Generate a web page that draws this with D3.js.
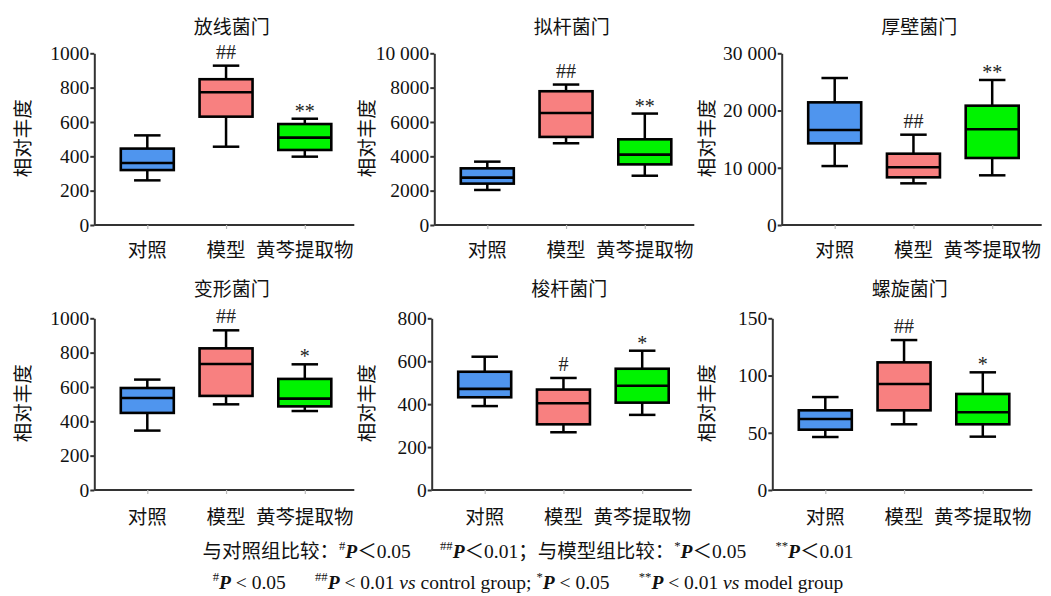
<!DOCTYPE html>
<html>
<head>
<meta charset="utf-8">
<script src="https://cdn.jsdelivr.net/npm/d3@7"></script>
<style>
  body { margin: 0; background: #fff; }
  svg { display: block; }
</style>
</head>
<body>
<svg id="chart" width="1051" height="596"></svg>
<script>
// Groups and their fill colours
const groups = ["对照", "模型", "黄芩提取物"];
const groupColors = ["#4f95ee", "#f88080", "#00f300"];

// Panel titles (phyla)
const phyla = ["放线菌门", "拟杆菌门", "厚壁菌门", "变形菌门", "梭杆菌门", "螺旋菌门"];

// Box statistics per group: [lower whisker, Q1, median, Q3, upper whisker]
const actinobacteria = [[260, 320, 361, 445, 522], [456, 631, 773, 849, 928], [398, 437, 509, 588, 619]];
const bacteroidetes  = [[2040, 2410, 2760, 3300, 3690], [4760, 5130, 6520, 7790, 8180], [2870, 3530, 4100, 4990, 6490]];
const firmicutes     = [[10300, 14270, 16600, 21430, 25680], [7280, 8330, 10080, 12460, 15780], [8680, 11710, 16720, 20850, 25340]];
const proteobacteria = [[346, 449, 536, 594, 643], [499, 548, 734, 825, 930], [460, 487, 532, 647, 732]];
const fusobacteria   = [[391, 432, 471, 551, 621], [269, 306, 404, 468, 522], [350, 407, 486, 565, 649]];
const spirochaetes   = [[46.3, 52.7, 62.0, 69.6, 81.2], [57.4, 69.6, 92.6, 111.5, 131.0], [46.6, 57.4, 67.9, 83.9, 102.8]];
const panelData = [actinobacteria, bacteroidetes, firmicutes, proteobacteria, fusobacteria, spirochaetes];

// Significance marks per group
const significance = [
  ["", "##", "**"], ["", "##", "**"], ["", "##", "**"],
  ["", "##", "*"],  ["", "#", "*"],   ["", "##", "*"]
];

// Y axes: maxima, tick values and tick labels
const yMaxima = [1000, 10000, 30000, 1000, 800, 150];
const yTickValues = [
  [0, 200, 400, 600, 800, 1000],
  [0, 2000, 4000, 6000, 8000, 10000],
  [0, 10000, 20000, 30000],
  [0, 200, 400, 600, 800, 1000],
  [0, 200, 400, 600, 800],
  [0, 50, 100, 150]
];
const yTickLabels = [
  ["0", "200", "400", "600", "800", "1000"],
  ["0", "2000", "4000", "6000", "8000", "10 000"],
  ["0", "10 000", "20 000", "30 000"],
  ["0", "200", "400", "600", "800", "1000"],
  ["0", "200", "400", "600", "800"],
  ["0", "50", "100", "150"]
];
const yAxisTitle = "相对丰度";

// Panel placement
const rows = [
  { top: 53.3, bottom: 225, titleY: 25, labelY: 248 },
  { top: 318.3, bottom: 490, titleY: 287, labelY: 515 }
];
const panelPlacement = [
  { row: 0, axisX: 94.3, yTitleX: 21.7 },
  { row: 0, axisX: 434.3, yTitleX: 365 },
  { row: 0, axisX: 781.7, yTitleX: 705 },
  { row: 1, axisX: 94.3, yTitleX: 21.7 },
  { row: 1, axisX: 431.7, yTitleX: 365 },
  { row: 1, axisX: 772.3, yTitleX: 705 }
];
const axisLength = 260;
const boxWidth = 53;

const serif = "'Liberation Serif', 'Times New Roman', serif";
const cjk = "'Noto Sans CJK SC', sans-serif";
const axisColor = "#333";

const svg = d3.select("#chart");

panelData.forEach((stats, i) => {
  const place = panelPlacement[i];
  const row = rows[place.row];
  const g = svg.append("g");

  const y = d3.scaleLinear().domain([0, yMaxima[i]]).range([row.bottom, row.top]);
  const x = d3.scalePoint().domain(groups)
    .range([place.axisX + 53, place.axisX + 210.5]);

  // Title
  g.append("text")
    .attr("x", place.axisX + 137.5).attr("y", row.titleY)
    .attr("text-anchor", "middle").attr("dominant-baseline", "central")
    .attr("font-family", cjk).attr("font-size", 19).attr("fill", "#111")
    .text(phyla[i]);

  // Y axis
  const yAxis = d3.axisLeft(y)
    .tickValues(yTickValues[i])
    .tickFormat((d, k) => yTickLabels[i][k])
    .tickSize(4).tickPadding(1).tickSizeOuter(0);
  const ya = g.append("g").attr("transform", `translate(${place.axisX},0)`).call(yAxis);
  ya.select(".domain").attr("stroke", axisColor).attr("stroke-width", 2);
  ya.selectAll(".tick line").attr("stroke", axisColor).attr("stroke-width", 2);
  ya.selectAll(".tick text").attr("font-family", serif).attr("font-size", 19.5).attr("fill", "#111");

  // X axis
  const xAxis = d3.axisBottom(x).tickSize(4).tickSizeOuter(0).tickFormat("");
  const xa = g.append("g").attr("transform", `translate(0,${row.bottom})`).call(xAxis);
  xa.select(".domain").attr("d", `M${place.axisX},0H${place.axisX + axisLength}`)
    .attr("stroke", axisColor).attr("stroke-width", 2);
  xa.selectAll(".tick line").attr("stroke", "#bbb").attr("stroke-width", 1.2);

  // Category labels
  g.selectAll(".cat").data(groups).join("text")
    .attr("x", d => x(d)).attr("y", row.labelY)
    .attr("text-anchor", "middle").attr("dominant-baseline", "central")
    .attr("font-family", cjk).attr("font-size", 19.5).attr("fill", "#111")
    .text(d => d);

  // Y axis title
  const midY = (row.top + row.bottom) / 2 - 1;
  g.append("text")
    .attr("transform", `translate(${place.yTitleX},${midY}) rotate(-90)`)
    .attr("text-anchor", "middle").attr("dominant-baseline", "central")
    .attr("font-family", cjk).attr("font-size", 19.5).attr("fill", "#111")
    .text(yAxisTitle);

  // Boxes
  const box = g.selectAll(".box").data(stats).join("g");
  const cx = (d, k) => x(groups[k]);

  box.append("line") // upper whisker
    .attr("x1", cx).attr("x2", cx)
    .attr("y1", d => y(d[4])).attr("y2", d => y(d[3]))
    .attr("stroke", "#000").attr("stroke-width", 2.5);
  box.append("line") // lower whisker
    .attr("x1", cx).attr("x2", cx)
    .attr("y1", d => y(d[1])).attr("y2", d => y(d[0]))
    .attr("stroke", "#000").attr("stroke-width", 2.5);
  box.append("line") // upper cap
    .attr("x1", (d, k) => cx(d, k) - boxWidth / 4).attr("x2", (d, k) => cx(d, k) + boxWidth / 4)
    .attr("y1", d => y(d[4])).attr("y2", d => y(d[4]))
    .attr("stroke", "#000").attr("stroke-width", 2.5);
  box.append("line") // lower cap
    .attr("x1", (d, k) => cx(d, k) - boxWidth / 4).attr("x2", (d, k) => cx(d, k) + boxWidth / 4)
    .attr("y1", d => y(d[0])).attr("y2", d => y(d[0]))
    .attr("stroke", "#000").attr("stroke-width", 2.5);
  box.append("rect")
    .attr("x", (d, k) => cx(d, k) - boxWidth / 2).attr("width", boxWidth)
    .attr("y", d => y(d[3])).attr("height", d => y(d[1]) - y(d[3]))
    .attr("fill", (d, k) => groupColors[k])
    .attr("stroke", "#000").attr("stroke-width", 2.6);
  box.append("line") // median
    .attr("x1", (d, k) => cx(d, k) - boxWidth / 2).attr("x2", (d, k) => cx(d, k) + boxWidth / 2)
    .attr("y1", d => y(d[2])).attr("y2", d => y(d[2]))
    .attr("stroke", "#000").attr("stroke-width", 2.6);

  // Significance marks above the upper whisker
  box.append("text")
    .attr("x", cx)
    .attr("y", (d, k) => {
      const m = significance[i][k];
      return y(d[4]) - (m.startsWith("#") ? 7 : 1);
    })
    .attr("text-anchor", "middle")
    .attr("font-family", serif).attr("font-size", 20).attr("fill", "#222")
    .attr("font-weight", 300)
    .text((d, k) => significance[i][k]);
});

// Footnotes
const noteParts1 = [
  ["与对照组比较：", ""], ["#", "sup"], ["P", "i"], ["＜0.05", ""], ["\u2003\u2002", ""],
  ["##", "sup"], ["P", "i"], ["＜0.01；与模型组比较：", ""],
  ["*", "sup"], ["P", "i"], ["＜0.05", ""], ["\u2003\u2002", ""],
  ["**", "sup"], ["P", "i"], ["＜0.01", ""]
];
const noteParts2 = [
  ["#", "sup"], ["P", "i"], [" < 0.05\u2003\u2002", ""],
  ["##", "sup"], ["P", "i"], [" < 0.01 ", ""], ["vs", "i"], [" control group; ", ""],
  ["*", "sup"], ["P", "i"], [" < 0.05\u2003\u2002", ""],
  ["**", "sup"], ["P", "i"], [" < 0.01 ", ""], ["vs", "i"], [" model group", ""]
];

function footnote(parts, yPos, size) {
  const t = svg.append("text")
    .attr("x", 528).attr("y", yPos).attr("text-anchor", "middle")
    .attr("font-family", `'Liberation Serif', 'Noto Sans CJK SC', serif`)
    .attr("font-size", size).attr("fill", "#111");
  let raised = false;
  parts.forEach(([s, kind]) => {
    const span = t.append("tspan").text(s);
    if (kind === "sup") {
      span.attr("font-size", size * 0.65).attr("dy", raised ? 0 : -size * 0.4);
      raised = true;
    } else {
      if (raised) span.attr("dy", size * 0.4);
      raised = false;
      if (kind === "i") span.attr("font-style", "italic").attr("font-weight", s === "P" ? "bold" : "normal");
    }
  });
}
footnote(noteParts1, 558, 19.5);
footnote(noteParts2, 589, 19.5);
</script>
</body>
</html>
